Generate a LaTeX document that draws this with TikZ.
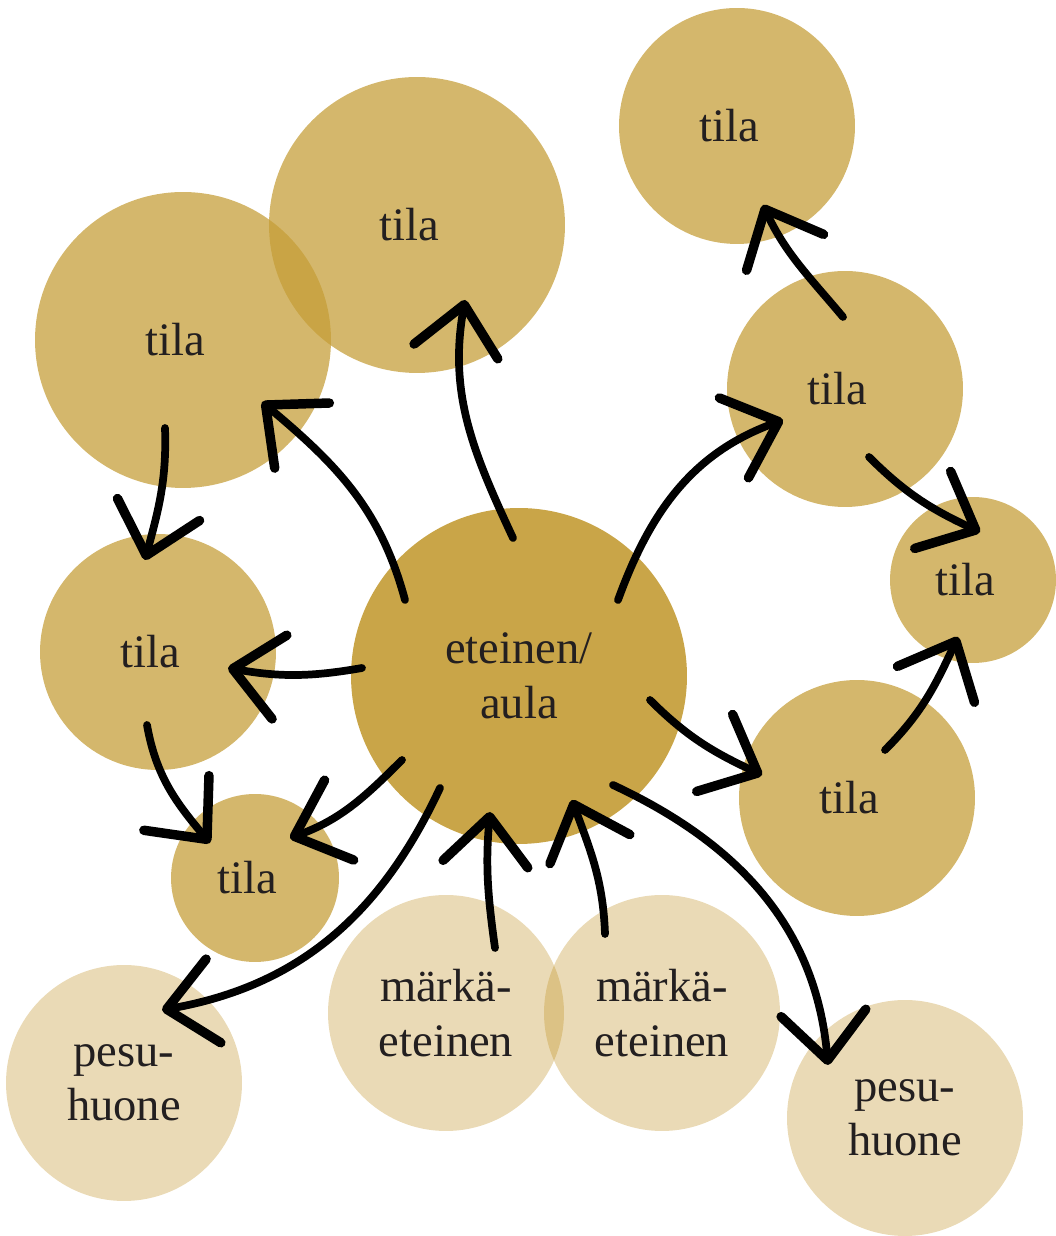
\documentclass[tikz,border=0pt]{standalone}
\usepackage{fontspec}
\setmainfont{Liberation Serif}
\usetikzlibrary{arrows.meta}
\definecolor{tilac}{RGB}{197,158,56}
\definecolor{aulac}{RGB}{201,165,72}
\definecolor{wetc}{RGB}{192,144,33}
\definecolor{inkc}{RGB}{35,31,32}

\begin{document}
\begin{tikzpicture}[x=0.02cm,y=0.02cm,font=\fontsize{26.5}{31}\selectfont,
	room/.style={circle,fill=tilac,fill opacity=0.74,text opacity=1,minimum size=#1,inner sep=0pt,align=center,text=inkc},
	tila/.style={room=#1,label={[text=inkc,xshift=-0.16cm]center:tila}},
	wet/.style={room=#1,fill=wetc,fill opacity=0.33},
	link/.style={-{Straight Barb[length=0.95cm,width=1.7cm,round,line width=5.4pt]},line width=4.4pt,line cap=round}]
	\useasboundingbox (0,0) rectangle (1055,1236);

	\node[tila=5.92cm] (t1) at (417,1011) {};
	\node[tila=5.92cm] (t2) at (183, 896) {};
	\node[tila=4.72cm] (t3) at (158, 584) {};
	\node[tila=3.36cm] (t4) at (255, 358) {};
	\node[tila=4.72cm] (t5) at (857, 438) {};
	\node[tila=3.32cm] (t6) at (973, 656) {};
	\node[tila=4.72cm] (t7) at (845, 847) {};
	\node[tila=4.72cm] (t8) at (737,1110) {};
	\node[room=6.72cm,fill=aulac,fill opacity=1] (aula) at (519,560) {eteinen/\\aula};
	\node[wet=4.72cm] (pesuL) at (124,153) {pesu-\\huone};
	\node[wet=4.72cm] (pesuR) at (905,118) {pesu-\\huone};
	\node[wet=4.72cm] (markL) at (446,223) {märkä-\\eteinen};
	\node[wet=4.72cm] (markR) at (662,223) {märkä-\\eteinen};

	\draw[link] ([shift={(  -6, 138)}]aula.center)  to[out=115,in=-100] ([shift={(  48, -75)}]t1.center);
	\draw[link] ([shift={(-114,  76)}]aula.center)  to[out=105,in=-40 ] ([shift={(  79, -62)}]t2.center);
	\draw[link] ([shift={(-157,   8)}]aula.center)  to[out=190,in=-10 ] ([shift={(  70, -16)}]t3.center);
	\draw[link] ([shift={(-117, -84)}]aula.center)  to[out=225,in=20  ] ([shift={(  35,  40)}]t4.center);
	\draw[link] ([shift={( -79,-112)}]aula.center)  to[out=245,in=10  ] ([shift={(  38,  73)}]pesuL.center);
	\draw[link] ([shift={(  49,  65)}]markL.center) to[out=98, in=-95 ] ([shift={( -29,-136)}]aula.center);
	\draw[link] ([shift={( -57,  79)}]markR.center) to[out=92, in=-70 ] ([shift={(  53,-124)}]aula.center);
	\draw[link] ([shift={(  94,-109)}]aula.center)  to[out=-25,in=95  ] ([shift={( -77,  53)}]pesuR.center);
	\draw[link] ([shift={( 131, -24)}]aula.center)  to[out=-45,in=155 ] ([shift={( -95,  23)}]t5.center);
	\draw[link] ([shift={(  99,  76)}]aula.center)  to[out=70, in=-160] ([shift={( -62, -31)}]t7.center);
	\draw[link] ([shift={(  -2,  72)}]t7.center)    to[out=130,in=-65 ] ([shift={(  26, -79)}]t8.center);
	\draw[link] ([shift={(  24, -68)}]t7.center)    to[out=-45,in=155 ] ([shift={(   7,  48)}]t6.center);
	\draw[link] ([shift={(  28,  48)}]t5.center)    to[out=45, in=-115] ([shift={( -15, -57)}]t6.center);
	\draw[link] ([shift={( -18, -88)}]t2.center)    to[out=-88,in=75  ] ([shift={( -13,  92)}]t3.center);
	\draw[link] ([shift={( -11, -73)}]t3.center)    to[out=-80,in=130 ] ([shift={( -45,  35)}]t4.center);
\end{tikzpicture}
\end{document}
